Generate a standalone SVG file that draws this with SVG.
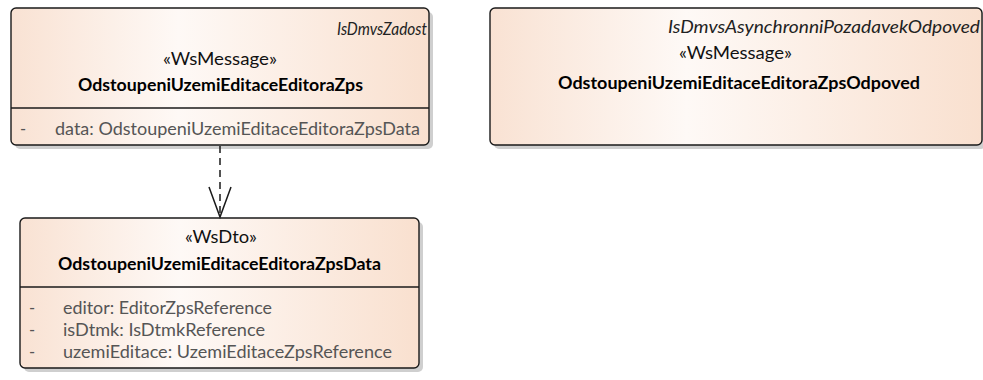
<svg xmlns="http://www.w3.org/2000/svg" width="983" height="380" viewBox="0 0 983 380">
<style>
.box{fill:url(#g);stroke:#1a1a1a;stroke-width:1.4}
.sh{fill:#cfcfcf}
.div{stroke:#1a1a1a;stroke-width:1.4}
text{font-family:Lato,"Liberation Sans",Arial,sans-serif;font-size:16.5px}
.it{font-style:italic;fill:#222}
.st{fill:#111}
.nm{font-weight:bold;fill:#000}
.at{fill:#555}
.cn{stroke:#1a1a1a;stroke-width:1.5;fill:none}
</style>
<defs>
<linearGradient id="g" x1="0" y1="0" x2="1" y2="0">
<stop offset="0" stop-color="#F9E2D3"/>
<stop offset="0.4" stop-color="#FEF9F6"/>
<stop offset="1" stop-color="#F9E0CF"/>
</linearGradient>
</defs>
<g id="OdstoupeniUzemiEditaceEditoraZps">
<rect class="sh" x="15" y="12" width="418" height="137" rx="5"/>
<rect class="box" x="11" y="8" width="418" height="137" rx="5"/>
<line class="div" x1="11" y1="108" x2="429" y2="108"/>
<text class="it" x="337" y="35" textLength="90" lengthAdjust="spacingAndGlyphs">IsDmvsZadost</text>
<text class="st" x="163" y="65" textLength="114" lengthAdjust="spacingAndGlyphs">«WsMessage»</text>
<text class="nm" x="78" y="91" textLength="285" lengthAdjust="spacingAndGlyphs">OdstoupeniUzemiEditaceEditoraZps</text>
<text class="at" x="20" y="135">-</text>
<text class="at" x="55" y="135" textLength="365" lengthAdjust="spacingAndGlyphs">data: OdstoupeniUzemiEditaceEditoraZpsData</text>
</g>
<g id="OdstoupeniUzemiEditaceEditoraZpsOdpoved">
<rect class="sh" x="494" y="12" width="492" height="137" rx="5"/>
<rect class="box" x="490" y="8" width="492" height="137" rx="5"/>
<text class="it" x="668" y="33" textLength="312" lengthAdjust="spacingAndGlyphs">IsDmvsAsynchronniPozadavekOdpoved</text>
<text class="st" x="679" y="59" textLength="113" lengthAdjust="spacingAndGlyphs">«WsMessage»</text>
<text class="nm" x="558" y="89" textLength="362" lengthAdjust="spacingAndGlyphs">OdstoupeniUzemiEditaceEditoraZpsOdpoved</text>
</g>
<g id="OdstoupeniUzemiEditaceEditoraZpsData">
<rect class="sh" x="24" y="222" width="399" height="150" rx="5"/>
<rect class="box" x="20" y="218" width="399" height="150" rx="5"/>
<line class="div" x1="20" y1="287" x2="419" y2="287"/>
<text class="st" x="185" y="243" textLength="72" lengthAdjust="spacingAndGlyphs">«WsDto»</text>
<text class="nm" x="58" y="270" textLength="323" lengthAdjust="spacingAndGlyphs">OdstoupeniUzemiEditaceEditoraZpsData</text>
<text class="at" x="29" y="314">-</text>
<text class="at" x="63" y="314" textLength="209" lengthAdjust="spacingAndGlyphs">editor: EditorZpsReference</text>
<text class="at" x="29" y="336">-</text>
<text class="at" x="63" y="336" textLength="202" lengthAdjust="spacingAndGlyphs">isDtmk: IsDtmkReference</text>
<text class="at" x="29" y="358">-</text>
<text class="at" x="63" y="358" textLength="329" lengthAdjust="spacingAndGlyphs">uzemiEditace: UzemiEditaceZpsReference</text>
</g>
<g id="connectors">
<line class="cn" x1="220" y1="146" x2="220" y2="216" stroke-dasharray="7,5"/>
<polyline class="cn" points="209,187 220,217 231,187"/>
</g>
</svg>
